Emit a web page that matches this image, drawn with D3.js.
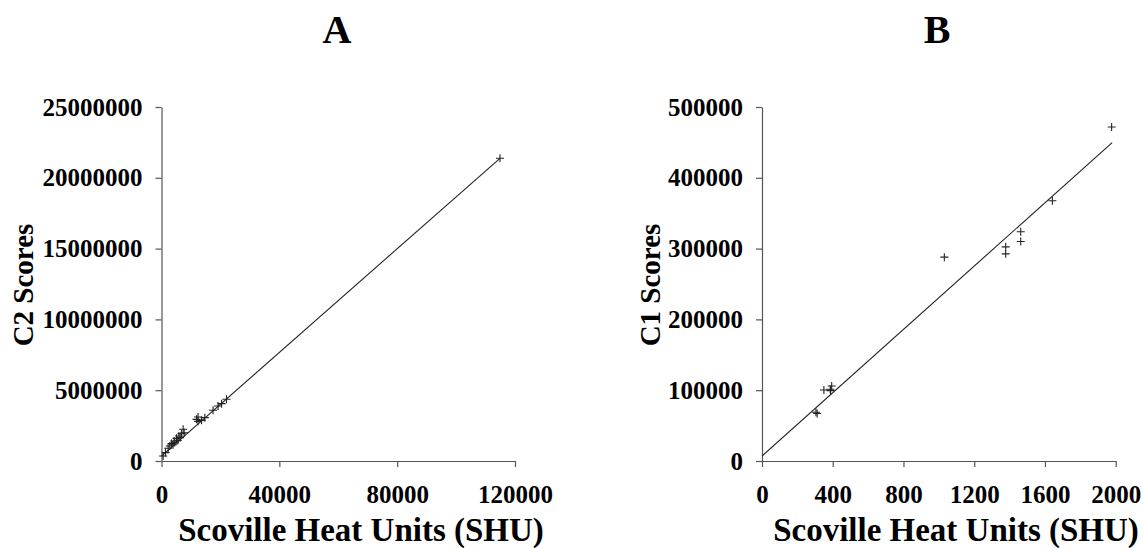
<!DOCTYPE html>
<html>
<head>
<meta charset="utf-8">
<script src="https://cdn.jsdelivr.net/npm/d3@7"></script>
<style>
  body { margin: 0; background: #fff; }
  text { font-family: "Liberation Serif", "Times New Roman", serif; font-weight: bold; fill: #000; }
</style>
</head>
<body>
<svg></svg>
<script>
var width = 1143;
var height = 548;
var svg = d3.select("svg").attr("width", width).attr("height", height);

// panel A : SHU vs C2 scores
var shuA = [114900, 22060, 20400, 19200, 17500, 14700, 12400, 11900, 13600, 12400, 7350, 6800, 5900, 5100, 4300, 3400, 2800, 2250, 1360, 560, 4500, 6300, 7700, 5500, 3900];
var c2A  = [21380000, 4360000, 4050000, 3880000, 3580000, 3060000, 3110000, 2940000, 2870000, 2800000, 2240000, 1930000, 1770000, 1600000, 1410000, 1230000, 1060000, 900000, 590000, 350000, 1300000, 1650000, 2000000, 1450000, 1150000];
var fitA = [0, 114900]; // x range of the regression line
var slopeA = 183, interA = 350000;
var xTicksA = [0, 40000, 80000, 120000];
var yTicksA = [0, 5000000, 10000000, 15000000, 20000000, 25000000];

// panel B : SHU vs C1 scores
var shuB = [1977, 1642, 1463, 1463, 1378, 1378, 1031, 394, 388, 350, 305, 312, 386];
var c1B  = [471700, 367600, 323700, 310000, 302500, 292600, 287900, 106000, 99400, 100300, 68800, 67000, 101300];
var fitB = [0, 1980];
var slopeB = 223.6, interB = 7000;
var xTicksB = [0, 400, 800, 1200, 1600, 2000];
var yTicksB = [0, 100000, 200000, 300000, 400000, 500000];

function panel(o) {
  var x = d3.scaleLinear().domain(o.xDom).range(o.xRange);
  var y = d3.scaleLinear().domain(o.yDom).range([461, 107]);
  var g = svg.append("g");

  var xAxis = d3.axisBottom(x).tickValues(o.xTicks).tickFormat(d3.format("d"))
      .tickSize(6).tickSizeOuter(0).tickPadding(18);
  var yAxis = d3.axisLeft(y).tickValues(o.yTicks).tickFormat(d3.format("d"))
      .tickSize(6).tickSizeOuter(0).tickPadding(13);

  var gx = g.append("g").attr("transform", "translate(0,461)").call(xAxis);
  var gy = g.append("g").attr("transform", "translate(" + o.xRange[0] + ",0)").call(yAxis);
  [gx, gy].forEach(function(a) {
    a.selectAll("path, line").attr("stroke", "#555").attr("stroke-width", 1.2);
    a.selectAll("text").style("font-size", "25px").attr("fill", "#000");
  });

  // fitted line
  g.append("line")
    .attr("x1", x(o.fit[0])).attr("y1", y(o.slope * o.fit[0] + o.inter))
    .attr("x2", x(o.fit[1])).attr("y2", y(o.slope * o.fit[1] + o.inter))
    .attr("stroke", "#222").attr("stroke-width", 1.1);

  // plus markers
  g.selectAll(".pt").data(o.xs).enter().append("path")
    .attr("class", "pt")
    .attr("d", function(d, i) {
      var cx = x(d), cy = y(o.ys[i]);
      return "M" + (cx - 4) + "," + cy + "H" + (cx + 4) + "M" + cx + "," + (cy - 4) + "V" + (cy + 4);
    })
    .attr("stroke", "#222").attr("stroke-width", 1.1).attr("fill", "none");

  g.append("text").attr("x", o.titleX).attr("y", 43).attr("text-anchor", "middle")
    .style("font-size", "40px").text(o.title);
  g.append("text").attr("x", o.xLabX).attr("y", 541).attr("text-anchor", "middle")
    .style("font-size", "33px").text("Scoville Heat Units (SHU)");
  g.append("text").attr("transform", "translate(" + o.yLabX + ",285) rotate(-90)")
    .attr("text-anchor", "middle").style("font-size", "29px").text(o.yLabel);
}

panel({xDom: [0, 120000], xRange: [161.5, 515], yDom: [0, 25000000],
       xTicks: xTicksA, yTicks: yTicksA, xs: shuA, ys: c2A, fit: fitA, slope: slopeA, inter: interA,
       title: "A", titleX: 337, xLabX: 361, yLabX: 33, yLabel: "C2 Scores"});
panel({xDom: [0, 2000], xRange: [762, 1115.7], yDom: [0, 500000],
       xTicks: xTicksB, yTicks: yTicksB, xs: shuB, ys: c1B, fit: fitB, slope: slopeB, inter: interB,
       title: "B", titleX: 937, xLabX: 956, yLabX: 660, yLabel: "C1 Scores"});
</script>
</body>
</html>
